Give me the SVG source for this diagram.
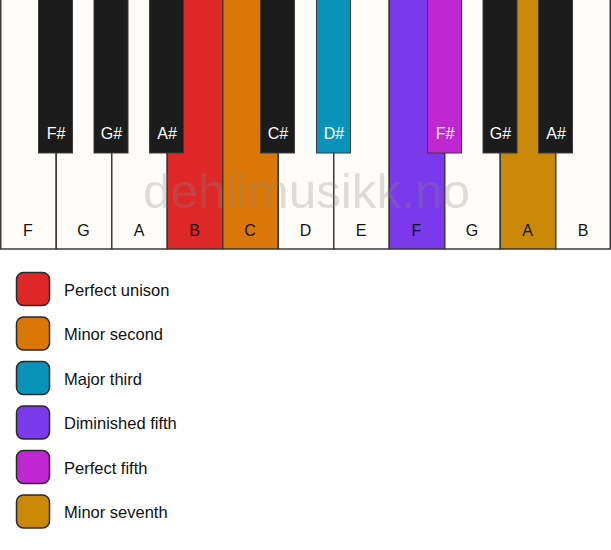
<svg xmlns="http://www.w3.org/2000/svg" width="611" height="550" viewBox="0 0 611 550">
<style>
.w{fill:#fefdf9;stroke:#3a3a3a;stroke-width:1.5}
.b{fill:#1c1c1c;stroke:#3a3a3a;stroke-width:1}
.lw{font-family:"Liberation Sans",Arial,sans-serif;font-size:16px;fill:#111;text-anchor:middle}
.lb{font-family:"Liberation Sans",Arial,sans-serif;font-size:16px;fill:#fff;text-anchor:middle}
.sw{stroke:#2a2a2a;stroke-width:1.5}
.lt{font-family:"Liberation Sans",Arial,sans-serif;font-size:16.5px;fill:#111}
.wm{font-family:"Liberation Sans",Arial,sans-serif;font-size:48px;fill:#8a8a8a;fill-opacity:0.28;text-anchor:middle}
</style>
<rect x="0" y="0" width="611" height="550" fill="#ffffff"/>
<g id="white-keys">
<g id="wk-F1"><rect class="w" x="0.75" y="-1" width="55.5" height="250"/><text class="lw" x="28" y="236">F</text></g>
<g id="wk-G1"><rect class="w" x="56.25" y="-1" width="55.5" height="250"/><text class="lw" x="83.5" y="236">G</text></g>
<g id="wk-A1"><rect class="w" x="111.75" y="-1" width="55.5" height="250"/><text class="lw" x="139" y="236">A</text></g>
<g id="wk-B1"><rect class="w" x="167.25" y="-1" width="55.5" height="250" style="fill:#de2727"/><text class="lw" x="194.5" y="236">B</text></g>
<g id="wk-C"><rect class="w" x="222.75" y="-1" width="55.5" height="250" style="fill:#db7706"/><text class="lw" x="250" y="236">C</text></g>
<g id="wk-D"><rect class="w" x="278.25" y="-1" width="55.5" height="250"/><text class="lw" x="305.5" y="236">D</text></g>
<g id="wk-E"><rect class="w" x="333.75" y="-1" width="55.5" height="250"/><text class="lw" x="361" y="236">E</text></g>
<g id="wk-F2"><rect class="w" x="389.25" y="-1" width="55.5" height="250" style="fill:#7a3aeb"/><text class="lw" x="416.5" y="236">F</text></g>
<g id="wk-G2"><rect class="w" x="444.75" y="-1" width="55.5" height="250"/><text class="lw" x="472" y="236">G</text></g>
<g id="wk-A2"><rect class="w" x="500.25" y="-1" width="55.5" height="250" style="fill:#c98805"/><text class="lw" x="527.5" y="236">A</text></g>
<g id="wk-B2"><rect class="w" x="555.75" y="-1" width="54.5" height="250"/><text class="lw" x="583" y="236">B</text></g>
</g>
<g id="black-keys">
<g id="bk-Fs1"><rect class="b" x="38.5" y="-1" width="34" height="154"/><text class="lb" x="56" y="139">F#</text></g>
<g id="bk-Gs1"><rect class="b" x="94" y="-1" width="34" height="154"/><text class="lb" x="111.5" y="139">G#</text></g>
<g id="bk-As1"><rect class="b" x="149.5" y="-1" width="34" height="154"/><text class="lb" x="167" y="139">A#</text></g>
<g id="bk-Cs"><rect class="b" x="260.5" y="-1" width="34" height="154"/><text class="lb" x="278" y="139">C#</text></g>
<g id="bk-Ds"><rect class="b" x="316.5" y="-1" width="34" height="154" style="fill:#0a93b8"/><text class="lb" x="334" y="139">D#</text></g>
<g id="bk-Fs2"><rect class="b" x="427.5" y="-1" width="34" height="154" style="fill:#c026d1"/><text class="lb" x="445" y="139">F#</text></g>
<g id="bk-Gs2"><rect class="b" x="483" y="-1" width="34" height="154"/><text class="lb" x="500.5" y="139">G#</text></g>
<g id="bk-As2"><rect class="b" x="538.5" y="-1" width="34" height="154"/><text class="lb" x="556" y="139">A#</text></g>
</g>
<text class="wm" x="306.5" y="208" textLength="327" lengthAdjust="spacingAndGlyphs">dehlimusikk.no</text>
<g id="legend">
<g id="lg1"><rect class="sw" x="16.5" y="272.5" width="33" height="33" rx="7" fill="#de2727"/><text class="lt" x="64" y="296">Perfect unison</text></g>
<g id="lg2"><rect class="sw" x="16.5" y="317" width="33" height="33" rx="7" fill="#db7706"/><text class="lt" x="64" y="340">Minor second</text></g>
<g id="lg3"><rect class="sw" x="16.5" y="361.5" width="33" height="33" rx="7" fill="#0a93b8"/><text class="lt" x="64" y="385">Major third</text></g>
<g id="lg4"><rect class="sw" x="16.5" y="406" width="33" height="33" rx="7" fill="#7a3aeb"/><text class="lt" x="64" y="429">Diminished fifth</text></g>
<g id="lg5"><rect class="sw" x="16.5" y="450.5" width="33" height="33" rx="7" fill="#c026d1"/><text class="lt" x="64" y="474">Perfect fifth</text></g>
<g id="lg6"><rect class="sw" x="16.5" y="495" width="33" height="33" rx="7" fill="#c98805"/><text class="lt" x="64" y="518">Minor seventh</text></g>
</g>
</svg>
